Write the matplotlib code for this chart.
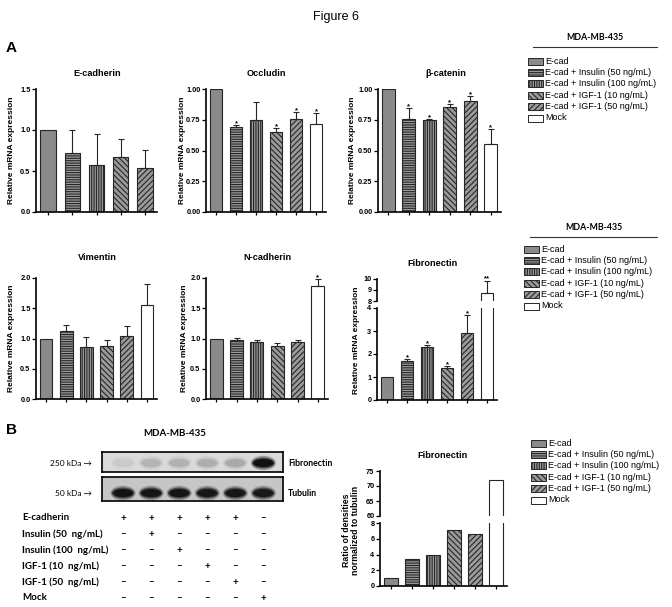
import matplotlib
matplotlib.use("Agg")
import matplotlib.pyplot as plt
from matplotlib.patches import Rectangle, Ellipse

plt.rcParams["font.family"] = ["Liberation Sans", "DejaVu Sans"]
plt.rcParams["hatch.linewidth"] = 0.8

W, H = 672, 607

GROUPS = ["E-cad", "E-cad + Insulin (50 ng/mL)", "E-cad + Insulin (100 ng/mL)",
          "E-cad + IGF-1 (10 ng/mL)", "E-cad + IGF-1 (50 ng/mL)", "Mock"]

# panel A: relative mRNA expression (mean, upper error)
ECAD_MEAN = [1.0, 0.715, 0.568, 0.666, 0.535]
ECAD_ERR = [0, 0.285, 0.38, 0.225, 0.225]
ECAD_STAR = ["", "", "", "", ""]

OCCL_MEAN = [1.0, 0.692, 0.749, 0.651, 0.755, 0.717]
OCCL_ERR = [0, 0.016, 0.145, 0.03, 0.06, 0.087]
OCCL_STAR = ["", "*", "", "*", "*", "*"]

BCAT_MEAN = [1.0, 0.76, 0.75, 0.853, 0.90, 0.556]
BCAT_ERR = [0, 0.085, 0.007, 0.027, 0.04, 0.12]
BCAT_STAR = ["", "*", "*", "*", "*", "*"]

VIM_MEAN = [1.0, 1.12, 0.86, 0.875, 1.045, 1.555]
VIM_ERR = [0, 0.10, 0.17, 0.10, 0.155, 0.35]
VIM_STAR = ["", "", "", "", "", ""]

NCAD_MEAN = [1.0, 0.975, 0.95, 0.88, 0.95, 1.86]
NCAD_ERR = [0, 0.03, 0.03, 0.05, 0.03, 0.12]
NCAD_STAR = ["", "", "", "", "", "*"]

FN_MEAN = [1.0, 1.70, 2.31, 1.37, 2.92, 8.75]
FN_ERR = [0, 0.09, 0.06, 0.10, 0.76, 1.1]
FN_STAR = ["", "*", "*", "*", "*", "**"]

# panel B: band densities normalized to tubulin
DENS = [1.0, 3.45, 3.88, 7.1, 6.6, 72.0]

# western blot band strengths (0..1) per lane
FN_BAND = [0.04, 0.10, 0.11, 0.12, 0.13, 1.0]
TUB_BAND = [0.95, 0.93, 0.93, 0.88, 0.88, 0.86]

TABLE_ROWS = ["E-cadherin", "Insulin (50  ng/mL)", "Insulin (100  ng/mL)",
              "IGF-1 (10  ng/mL)", "IGF-1 (50  ng/mL)", "Mock"]
TABLE_SIGNS = [["+", "+", "+", "+", "+", "–"],
               ["–", "+", "–", "–", "–", "–"],
               ["–", "–", "+", "–", "–", "–"],
               ["–", "–", "–", "+", "–", "–"],
               ["–", "–", "–", "–", "+", "–"],
               ["–", "–", "–", "–", "–", "+"]]

FACES = ["#8a8a8a", "#9a9a9a", "#9a9a9a", "#9a9a9a", "#9a9a9a", "white"]
HATCHES = [None, "-------", "|||||||", "\\\\\\\\\\\\", "//////", None]
EDGE = "#262626"


def rect(x0, y0, x1, y1):
    return [x0 / W, 1 - y1 / H, (x1 - x0) / W, (y1 - y0) / H]


def style(ax, n, ylim, yticks, fmt, bottom=True):
    ax.set_xlim(-0.5, n - 0.5)
    ax.set_ylim(*ylim)
    ax.set_yticks(yticks)
    ax.set_yticklabels([fmt.format(t) for t in yticks], fontweight="bold")
    ax.spines["top"].set_visible(False)
    ax.spines["right"].set_visible(False)
    ax.spines["left"].set_linewidth(1.2)
    ax.spines["bottom"].set_linewidth(1.2)
    ax.tick_params(axis="y", length=3, width=0.9, labelsize=5.3, pad=1)
    ax.patch.set_visible(False)
    if bottom:
        ax.set_xticks(range(n))
        ax.tick_params(axis="x", length=2.5, width=0.9, labelbottom=False)
    else:
        ax.spines["bottom"].set_visible(False)
        ax.set_xticks([])


def bars(ax, means, errs=None, stars=None, width=0.63):
    for i, v in enumerate(means):
        ax.bar(i, v, width=width, color=FACES[i], edgecolor=EDGE, hatch=HATCHES[i],
               linewidth=0.8, zorder=2)
    if errs is None:
        return
    idx = [i for i, e in enumerate(errs) if e > 0]
    ax.errorbar(idx, [means[i] for i in idx], yerr=[[0] * len(idx), [errs[i] for i in idx]],
                fmt="none", ecolor=EDGE, elinewidth=0.8, capsize=2.5, capthick=0.8, zorder=3)
    for i, s in enumerate(stars):
        if s:
            ax.annotate(s, (i, means[i] + errs[i]), xytext=(0, -1.5), textcoords="offset points",
                        ha="center", va="bottom", fontsize=5.5, fontweight="bold",
                        annotation_clip=False)


fig = plt.figure(figsize=(W / 100, H / 100), dpi=100)

# ---- panel A, simple panels
simple = [
    ((36, 89, 157, 212), ECAD_MEAN, ECAD_ERR, ECAD_STAR, (0, 1.5), [0, 0.5, 1.0, 1.5], "{:.1f}"),
    ((206, 89, 326, 212), OCCL_MEAN, OCCL_ERR, OCCL_STAR, (0, 1.0), [0, 0.25, 0.5, 0.75, 1.0], "{:.2f}"),
    ((378, 89, 501, 212), BCAT_MEAN, BCAT_ERR, BCAT_STAR, (0, 1.0), [0, 0.25, 0.5, 0.75, 1.0], "{:.2f}"),
    ((36, 278, 157, 399), VIM_MEAN, VIM_ERR, VIM_STAR, (0, 2.0), [0, 0.5, 1.0, 1.5, 2.0], "{:.1f}"),
    ((206, 278, 328, 399), NCAD_MEAN, NCAD_ERR, NCAD_STAR, (0, 2.0), [0, 0.5, 1.0, 1.5, 2.0], "{:.1f}"),
]
for box, m, e, s, yl, yt, fmt in simple:
    ax = fig.add_axes(rect(*box))
    bars(ax, m, e, s)
    style(ax, len(m), yl, yt, fmt)

# ---- panel A, fibronectin (broken axis)
ax_u = fig.add_axes(rect(377, 279, 497, 301))
ax_l = fig.add_axes(rect(377, 308, 497, 400))
bars(ax_u, FN_MEAN, FN_ERR, FN_STAR)
bars(ax_l, FN_MEAN)
style(ax_u, 6, (8, 10), [8, 9, 10], "{:d}", bottom=False)
style(ax_l, 6, (0, 4), [0, 1, 2, 3, 4], "{:d}")
for i, s in enumerate(FN_STAR[:5]):
    if s:
        ax_l.errorbar([i], [FN_MEAN[i]], yerr=[[0], [FN_ERR[i]]], fmt="none", ecolor=EDGE,
                      elinewidth=0.8, capsize=2.5, capthick=0.8, zorder=3)
        ax_l.annotate(s, (i, FN_MEAN[i] + FN_ERR[i]), xytext=(0, -1.5), textcoords="offset points",
                      ha="center", va="bottom", fontsize=5.5, fontweight="bold")

# ---- panel B, western blot
lane_xlim = (-0.75, 5.7)
ax_fn = fig.add_axes(rect(102, 452, 283, 472))
ax_tb = fig.add_axes(rect(102, 477, 283, 501))
for ax, band, yc, bh, bg in [(ax_fn, FN_BAND, 0.45, 0.5, "#dadada"),
                             (ax_tb, TUB_BAND, 0.33, 0.42, "#c6c6c6")]:
    ax.set_xlim(*lane_xlim)
    ax.set_ylim(0, 1)
    ax.set_facecolor(bg)
    ax.set_xticks([])
    ax.set_yticks([])
    for sp in ax.spines.values():
        sp.set_linewidth(1.2)
    for i, b in enumerate(band):
        for sw, sh, a in [(1.05, 1.45, 0.3), (0.95, 1.1, 0.6), (0.84, 0.8, 1.0)]:
            ax.add_patch(Ellipse((i, yc), 0.85 * sw, bh * sh, facecolor="#101010",
                                 edgecolor="none", alpha=a * b))

ax_tab = fig.add_axes(rect(102, 510, 283, 606))
ax_tab.set_xlim(*lane_xlim)
ax_tab.set_ylim(5.5, -0.5)
ax_tab.axis("off")
for r, (lab, signs) in enumerate(zip(TABLE_ROWS, TABLE_SIGNS)):
    ax_tab.text(-3.6, r, lab, ha="left", va="center", fontsize=7, fontweight="bold",
                family="Lato", clip_on=False)
    for c, sg in enumerate(signs):
        ax_tab.text(c, r, sg, ha="center", va="center", fontsize=7, fontweight="bold",
                    family="Lato")

# ---- panel B, densitometry (broken axis)
bx_u = fig.add_axes(rect(380, 471, 507, 516))
bx_l = fig.add_axes(rect(380, 523, 507, 586))
bars(bx_u, DENS, width=0.66)
bars(bx_l, DENS, width=0.66)
style(bx_u, 6, (60, 75), [60, 65, 70, 75], "{:d}", bottom=False)
style(bx_l, 6, (0, 8), [0, 2, 4, 6, 8], "{:d}")

# ---- overlay for text, legends
ov = fig.add_axes([0, 0, 1, 1], zorder=10)
ov.set_xlim(0, W)
ov.set_ylim(H, 0)
ov.axis("off")

ov.text(336, 17, "Figure 6", ha="center", va="center", fontsize=9)
ov.text(6, 48, "A", ha="left", va="center", fontsize=11, fontweight="bold")
ov.text(6, 430, "B", ha="left", va="center", fontsize=11, fontweight="bold")

for x, y, t in [(97, 74, "E-cadherin"), (266, 74, "Occludin"), (446, 74, "β-catenin"),
                (97, 258, "Vimentin"), (267, 258, "N-cadherin"), (433, 263, "Fibronectin"),
                (443, 456, "Fibronectin")]:
    ov.text(x, y, t, ha="center", va="center", fontsize=6.6, fontweight="bold")

for x, y in [(12, 150), (182, 150), (352, 150), (12, 338), (184, 338), (357, 340)]:
    ov.text(x, y, "Relative mRNA expression", rotation=90, ha="center", va="center",
            fontsize=6, fontweight="bold")
ov.text(351, 530, "Ratio of densities\nnormalized to tubulin", rotation=90, ha="center",
        va="center", fontsize=6.3, fontweight="bold", linespacing=1.0)


def legend_block(xp, y0, title_y=None, line=None):
    if title_y is not None:
        ov.text((line[0] + line[1]) / 2, title_y, "MDA-MB-435", ha="center", va="center",
                fontsize=6.3, fontweight="bold", family="Lato")
        ov.plot(line, [title_y + 10, title_y + 10], color="#333333", lw=0.8)
    for i, lab in enumerate(GROUPS):
        y = y0 + i * 11.4
        ov.add_patch(Rectangle((xp, y - 3.5), 15, 7, facecolor=FACES[i], edgecolor=EDGE,
                               hatch=HATCHES[i], lw=0.7))
        ov.text(xp + 17, y, lab, ha="left", va="center", fontsize=6.5)


legend_block(528, 61, 37, (533, 657))
legend_block(524, 249, 227, (530, 657))
legend_block(531, 443)

# blot labels
ov.text(175, 433, "MDA-MB-435", ha="center", va="center", fontsize=7, fontweight="bold",
        family="Lato")
ov.text(92, 463, "250 kDa →", ha="right", va="center", fontsize=6, family="Lato")
ov.text(92, 494, "50 kDa →", ha="right", va="center", fontsize=6, family="Lato")
ov.text(288, 463, "Fibronectin", ha="left", va="center", fontsize=6.3, fontweight="bold",
        family="Lato")
ov.text(288, 494, "Tubulin", ha="left", va="center", fontsize=6.3, fontweight="bold",
        family="Lato")

fig.savefig("out.png", dpi=100)
